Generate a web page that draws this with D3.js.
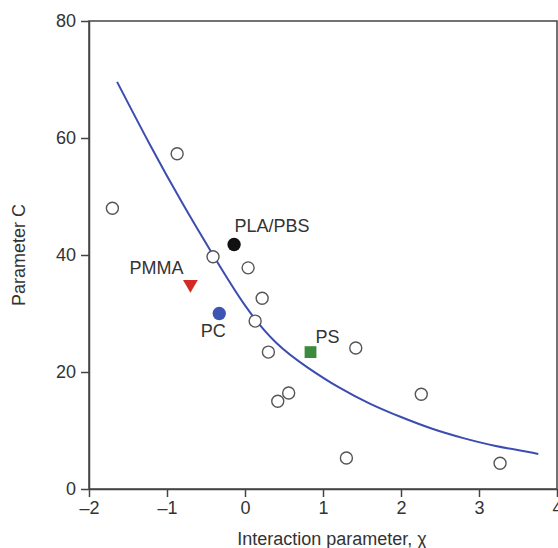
<!DOCTYPE html>
<html>
<head>
<meta charset="utf-8">
<script src="https://cdn.jsdelivr.net/npm/d3@7/dist/d3.min.js"></script>
<style>
  html, body { margin: 0; padding: 0; background: #fff; }
  svg { display: block; font-family: "Liberation Sans", Arial, sans-serif; }
</style>
</head>
<body>
<svg id="chart" width="558" height="548"></svg>
<script>
// Open-circle reference samples (interaction parameter γ, parameter C)
const sampleGamma = [-1.70, -0.87, -0.41, 0.04, 0.22, 0.13, 0.30, 0.42, 0.56, 1.42, 1.30, 2.26, 3.27];
const sampleC     = [48.0, 57.3, 39.7, 37.8, 32.6, 28.7, 23.4, 15.0, 16.4, 24.1, 5.3, 16.2, 4.4];

// Highlighted polymers
const polymerNames = ["PLA/PBS", "PMMA", "PC", "PS"];
const polymerGamma = [-0.14, -0.70, -0.33, 0.84];
const polymerC     = [41.8, 35.0, 30.0, 23.4];
const polymerShape = ["circle", "triangle", "circle", "square"];
const polymerColor = ["#111111", "#d42a25", "#3f55b3", "#3d8a3e"];

// Trend curve sampled along γ
const curveGamma = [-1.64, -1.22, -0.80, -0.40, 0.00, 0.40, 0.80, 1.20, 1.60, 2.00, 2.40, 2.80, 3.20, 3.60, 3.76];
const curveC     = [69.6, 58.9, 48.8, 39.8, 31.4, 25.0, 20.8, 17.4, 14.6, 12.3, 10.3, 8.7, 7.4, 6.4, 6.0];

// Axis ticks
const xTicks = [-2, -1, 0, 1, 2, 3, 4];
const yTicks = [0, 20, 40, 60, 80];

const svg = d3.select("#chart");
const margin = { left: 89, top: 21, right: 1, bottom: 59 };
const W = 558, H = 548;
const fontSize = "18px";

const x = d3.scaleLinear().domain([-2, 4]).range([margin.left, W - margin.right]);
const y = d3.scaleLinear().domain([0, 80]).range([H - margin.bottom, margin.top]);

const axisColor = "#444";
const textColor = "#333";

// Frame
svg.append("rect")
  .attr("x", x(-2)).attr("y", y(80))
  .attr("width", x(4) - x(-2)).attr("height", y(0) - y(80))
  .attr("fill", "none").attr("stroke", axisColor).attr("stroke-width", 1.5);

// Axes
const xAxis = svg.append("g")
  .attr("transform", `translate(0,${y(0)})`)
  .call(d3.axisBottom(x).tickValues(xTicks).tickSize(8).tickSizeOuter(0).tickPadding(4)
        .tickFormat(d => d < 0 ? "\u2013" + Math.abs(d) : String(d)));
const yAxis = svg.append("g")
  .attr("transform", `translate(${x(-2)},0)`)
  .call(d3.axisLeft(y).tickValues(yTicks).tickSize(8).tickSizeOuter(0).tickPadding(5));

[xAxis, yAxis].forEach(g => {
  g.select(".domain").attr("stroke", axisColor).attr("stroke-width", 1.5);
  g.selectAll(".tick line").attr("stroke", axisColor).attr("stroke-width", 1.5);
  g.selectAll(".tick text")
    .attr("fill", textColor)
    .style("font-size", fontSize)
    .style("font-family", "'Liberation Sans', Arial, sans-serif");
});

// Axis titles
svg.append("text")
  .attr("x", 332).attr("y", 545)
  .attr("text-anchor", "middle")
  .attr("fill", textColor)
  .style("font-size", fontSize)
  .text("Interaction parameter, \u03C7");

svg.append("text")
  .attr("transform", `translate(25,255) rotate(-90)`)
  .attr("text-anchor", "middle")
  .attr("fill", textColor)
  .style("font-size", fontSize)
  .text("Parameter C");

// Trend curve
const curvePts = curveGamma.map((g, i) => [g, curveC[i]]);
svg.append("path")
  .datum(curvePts)
  .attr("fill", "none")
  .attr("stroke", "#3b4db0")
  .attr("stroke-width", 2)
  .attr("d", d3.line().x(d => x(d[0])).y(d => y(d[1])).curve(d3.curveNatural));

// Open circles
svg.append("g").selectAll("circle")
  .data(sampleGamma.map((g, i) => [g, sampleC[i]]))
  .join("circle")
  .attr("cx", d => x(d[0]))
  .attr("cy", d => y(d[1]))
  .attr("r", 6)
  .attr("fill", "#fff")
  .attr("stroke", "#555")
  .attr("stroke-width", 1.4);

// Highlighted polymers
const polymers = polymerNames.map((n, i) => ({
  name: n, g: polymerGamma[i], c: polymerC[i], shape: polymerShape[i], color: polymerColor[i]
}));
const symbolType = { circle: d3.symbolCircle, triangle: d3.symbolTriangle, square: d3.symbolSquare };
const symbolSize = { circle: 140, triangle: 95, square: 140 };

svg.append("g").selectAll("path")
  .data(polymers)
  .join("path")
  .attr("transform", d => `translate(${x(d.g)},${y(d.c)})` + (d.shape === "triangle" ? " rotate(180)" : ""))
  .attr("d", d => d3.symbol().type(symbolType[d.shape]).size(symbolSize[d.shape])())
  .attr("fill", d => d.color);

// Labels next to the highlighted polymers
const labelOffset = {
  "PLA/PBS": [38, -12, "middle"],
  "PMMA":    [-34, -10, "middle"],
  "PC":      [-6, 23, "middle"],
  "PS":      [5, -9, "start"]
};
svg.append("g").selectAll("text")
  .data(polymers)
  .join("text")
  .attr("x", d => x(d.g) + labelOffset[d.name][0])
  .attr("y", d => y(d.c) + labelOffset[d.name][1])
  .attr("text-anchor", d => labelOffset[d.name][2])
  .attr("fill", textColor)
  .style("font-size", fontSize)
  .text(d => d.name);
</script>
</body>
</html>
